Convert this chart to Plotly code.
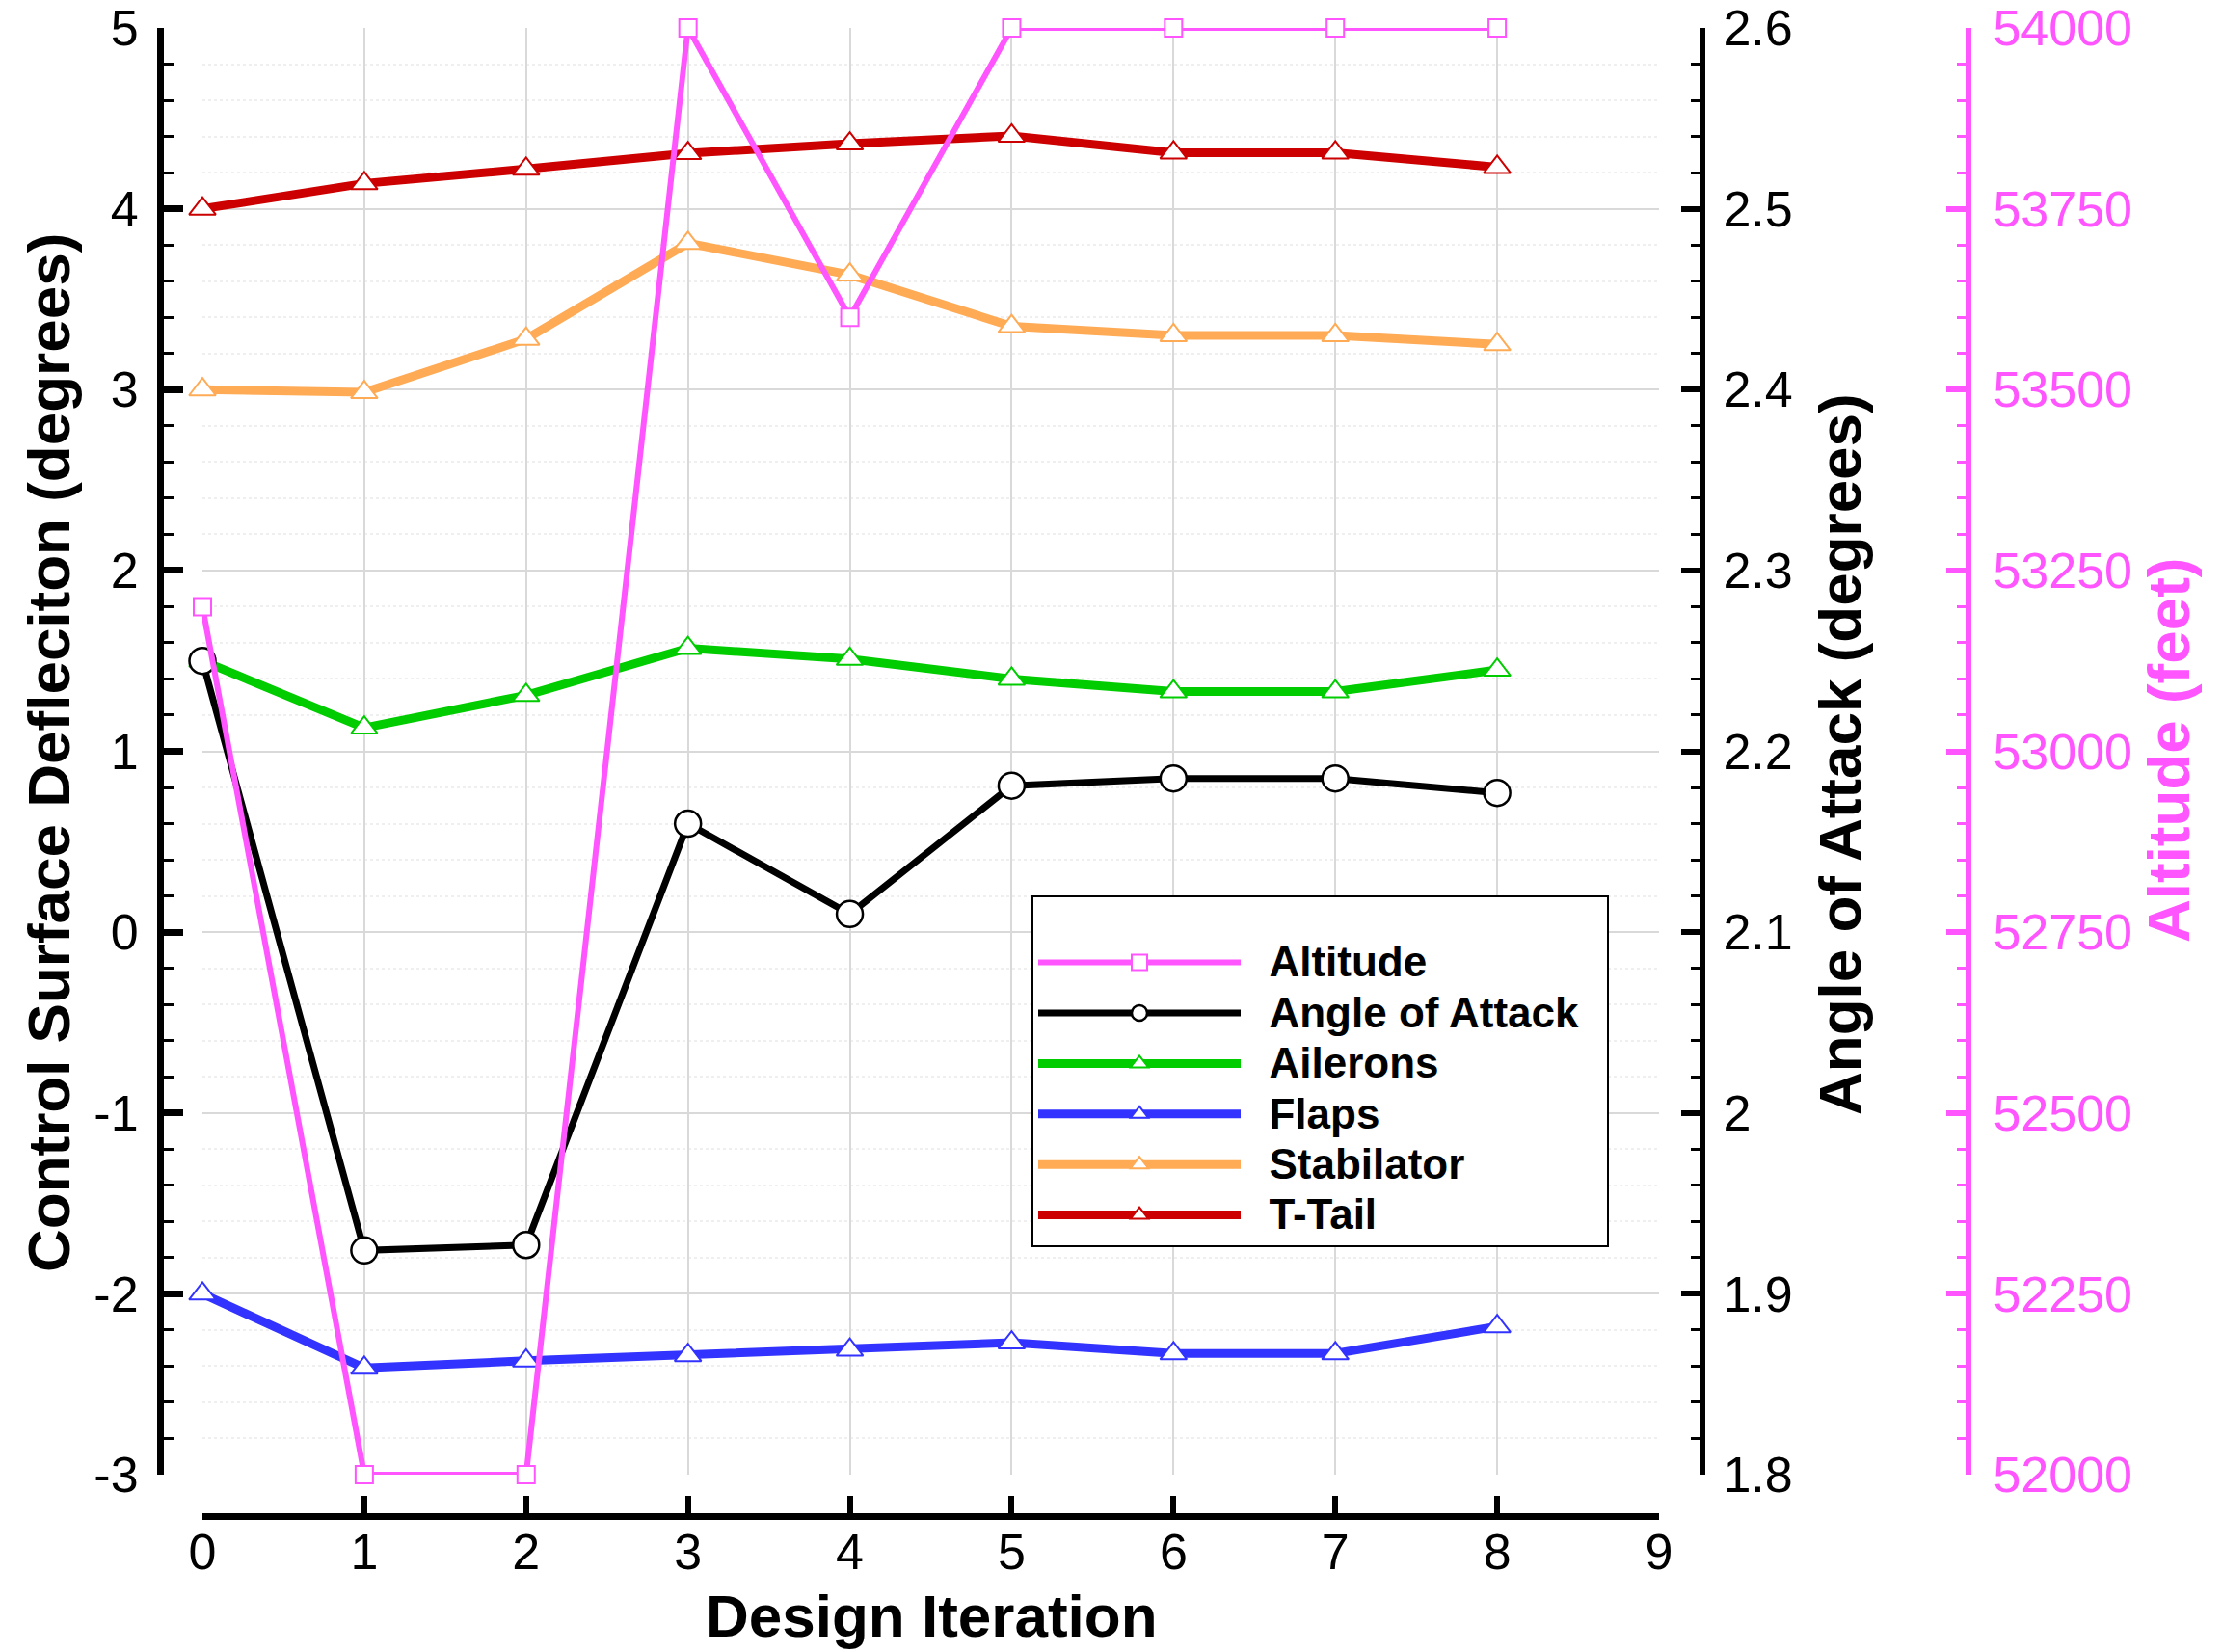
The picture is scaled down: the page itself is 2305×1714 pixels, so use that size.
import plotly.graph_objects as go

# ---- data -------------------------------------------------------------
iterations = [0, 1, 2, 3, 4, 5, 6, 7, 8]
altitude_ft = [53200, 52000, 52000, 54000, 53600, 54000, 54000, 54000, 54000]
angle_of_attack_deg = [2.25, 1.924, 1.927, 2.16, 2.11, 2.181, 2.185, 2.185, 2.177]
ailerons_deg = [1.50, 1.13, 1.31, 1.57, 1.51, 1.40, 1.33, 1.33, 1.45]
flaps_deg = [-2.00, -2.41, -2.37, -2.34, -2.31, -2.27, -2.33, -2.33, -2.18]
stabilator_deg = [3.00, 2.985, 3.28, 3.81, 3.635, 3.35, 3.30, 3.30, 3.25]
t_tail_deg = [4.00, 4.14, 4.22, 4.307, 4.36, 4.403, 4.31, 4.31, 4.23]

# ---- tick values and labels -------------------------------------------
iteration_ticks = [0, 1, 2, 3, 4, 5, 6, 7, 8, 9]
iteration_labels = ["0", "1", "2", "3", "4", "5", "6", "7", "8", "9"]
deflection_ticks = [-3, -2, -1, 0, 1, 2, 3, 4, 5]
deflection_labels = ["-3", "-2", "-1", "0", "1", "2", "3", "4", "5"]
aoa_ticks = [1.8, 1.9, 2.0, 2.1, 2.2, 2.3, 2.4, 2.5, 2.6]
aoa_labels = ["1.8", "1.9", "2", "2.1", "2.2", "2.3", "2.4", "2.5", "2.6"]
altitude_ticks = [52000, 52250, 52500, 52750, 53000, 53250, 53500, 53750, 54000]
altitude_labels = ["52000", "52250", "52500", "52750", "53000",
                   "53250", "53500", "53750", "54000"]

# ---- page geometry (pixels -> paper fractions) -------------------------
W, H = 2305, 1714


def px(x):
    return x / W


def py(y):
    return 1 - y / H


FONT = "Liberation Sans, Arial, Helvetica, sans-serif"

MAGENTA = "#ff55ff"
GREEN = "#00cc00"
BLUE = "#3333ff"
ORANGE = "#ffaa55"
RED = "#cc0000"
GRID = "#d9d9d9"
EPS = 1e-6


def legend_name(text, tail=""):
    return f"<b><span style='font-size:44px'>&nbsp;&nbsp;{text}{tail}</span></b>"


fig = go.Figure()

surface_series = [
    ("Ailerons", ailerons_deg, GREEN, 3),
    ("Flaps", flaps_deg, BLUE, 4),
    ("Stabilator", stabilator_deg, ORANGE, 5),
    ("T-Tail", t_tail_deg, RED, 6),
]
for name, values, color, rank in surface_series:
    fig.add_trace(go.Scatter(
        x=iterations, y=values, name=legend_name(name), legendrank=rank,
        mode="lines+markers", yaxis="y", cliponaxis=False,
        line=dict(color=color, width=9),
        marker=dict(symbol="triangle-up", size=24, color="white",
                    line=dict(color=color, width=2)),
    ))

fig.add_trace(go.Scatter(
    x=iterations, y=angle_of_attack_deg,
    name=legend_name("Angle of Attack", "&nbsp;&nbsp;"),
    legendrank=2, mode="lines+markers", yaxis="y2", cliponaxis=False,
    line=dict(color="black", width=7),
    marker=dict(symbol="circle", size=27, color="white",
                line=dict(color="black", width=2.5)),
))

fig.add_trace(go.Scatter(
    x=iterations, y=altitude_ft, name=legend_name("Altitude"),
    legendrank=1, mode="lines+markers", yaxis="y3", cliponaxis=False,
    line=dict(color=MAGENTA, width=6),
    marker=dict(symbol="square", size=18, color="white",
                line=dict(color=MAGENTA, width=2)),
))

tick_font = dict(family=FONT, size=52, color="black")

fig.update_layout(
    width=W, height=H, autosize=False,
    margin=dict(l=0, r=0, t=0, b=0, autoexpand=False),
    paper_bgcolor="white", plot_bgcolor="white",
    showlegend=True,
    xaxis=dict(
        domain=[px(210), px(1721)], range=[0, 9 + EPS],
        tickmode="array", tickvals=iteration_ticks, ticktext=iteration_labels,
        anchor="free", position=py(1573), automargin=False,
        showline=True, linecolor="black", linewidth=7,
        ticks="inside", ticklen=18, tickwidth=6, tickcolor="black",
        tickfont=tick_font, ticklabelstandoff=-11,
        showgrid=True, gridcolor=GRID, gridwidth=2, zeroline=False,
    ),
    yaxis=dict(
        domain=[py(1530), py(29)], range=[-3 - EPS, 5 + EPS],
        tickmode="array", tickvals=deflection_ticks,
        ticktext=deflection_labels,
        anchor="free", position=px(166), side="left", automargin=False,
        showline=True, linecolor="black", linewidth=7,
        ticks="inside", ticklen=20, tickwidth=7, tickcolor="black",
        tickfont=tick_font, ticklabelstandoff=9,
        showgrid=True, gridcolor=GRID, gridwidth=2, zeroline=False,
        minor=dict(dtick=0.2, tick0=0, ticks="inside", ticklen=10,
                   tickwidth=3, tickcolor="black", showgrid=True,
                   gridcolor="#efefef", griddash="dot", gridwidth=1.5),
    ),
    yaxis2=dict(
        overlaying="y", side="right", range=[1.8 - EPS, 2.6 + EPS],
        tickmode="array", tickvals=aoa_ticks, ticktext=aoa_labels,
        anchor="free", position=px(1766), automargin=False,
        showline=True, linecolor="black", linewidth=6,
        ticks="inside", ticklen=19, tickwidth=6, tickcolor="black",
        tickfont=tick_font, ticklabelstandoff=8,
        showgrid=False, zeroline=False,
        minor=dict(dtick=0.02, tick0=1.8, ticks="inside", ticklen=9,
                   tickwidth=2.5, tickcolor="black", showgrid=False),
    ),
    yaxis3=dict(
        overlaying="y", side="right", range=[52000 - 0.01, 54000 + 0.01],
        tickmode="array", tickvals=altitude_ticks, ticktext=altitude_labels,
        anchor="free", position=px(2042), automargin=False,
        showline=True, linecolor=MAGENTA, linewidth=6,
        ticks="inside", ticklen=20, tickwidth=6, tickcolor=MAGENTA,
        tickfont=dict(family=FONT, size=52, color=MAGENTA),
        ticklabelstandoff=12,
        showgrid=False, zeroline=False,
        minor=dict(dtick=50, tick0=52000, ticks="inside", ticklen=9,
                   tickwidth=2.5, tickcolor=MAGENTA, showgrid=False),
    ),
    legend=dict(
        x=px(1070), y=py(929), xanchor="left", yanchor="top",
        bgcolor="white", bordercolor="black", borderwidth=2,
        font=dict(family=FONT, size=38, color="black"),
        itemwidth=210, itemsizing="trace",
        title=dict(text="&nbsp;", font=dict(size=28)),
    ),
    annotations=[
        dict(text="<b>Design Iteration</b>", xref="paper", yref="paper",
             x=px(966), y=py(1676), xanchor="center", yanchor="middle",
             showarrow=False, font=dict(family=FONT, size=62, color="black")),
        dict(text="<b>Control Surface Defleciton (degrees)</b>", xref="paper",
             yref="paper", x=px(51), y=py(781), xanchor="center",
             yanchor="middle", textangle=-90, showarrow=False,
             font=dict(family=FONT, size=62, color="black")),
        dict(text="<b>Angle of Attack (degrees)</b>", xref="paper",
             yref="paper", x=px(1908), y=py(783), xanchor="center",
             yanchor="middle", textangle=-90, showarrow=False,
             font=dict(family=FONT, size=62, color="black")),
        dict(text="<b>Altitude (feet)</b>", xref="paper", yref="paper",
             x=px(2249), y=py(778), xanchor="center", yanchor="middle",
             textangle=-90, showarrow=False,
             font=dict(family=FONT, size=62, color=MAGENTA)),
    ],
)

fig.write_html("out.html")
